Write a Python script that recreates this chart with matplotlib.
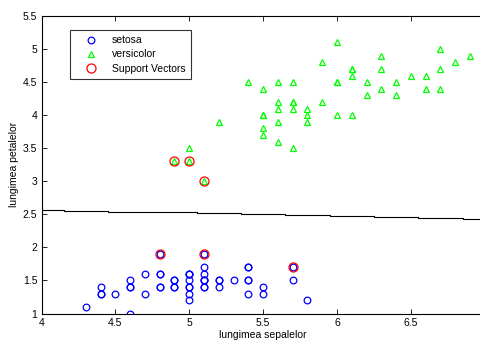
import matplotlib
matplotlib.use("Agg")
import matplotlib.pyplot as plt

setosa_x = [5.1,4.9,4.7,4.6,5.0,5.4,4.6,5.0,4.4,4.9,5.4,4.8,4.8,4.3,5.8,5.7,5.4,5.1,5.7,5.1,
            5.4,5.1,4.6,5.1,4.8,5.0,5.0,5.2,5.2,4.7,4.8,5.4,5.2,5.5,4.9,5.0,5.5,4.9,4.4,5.1,
            5.0,4.5,4.4,5.0,5.1,4.8,5.1,4.6,5.3,5.0]
setosa_y = [1.4,1.4,1.3,1.5,1.4,1.7,1.4,1.5,1.4,1.5,1.5,1.6,1.4,1.1,1.2,1.5,1.3,1.4,1.7,1.5,
            1.7,1.5,1.0,1.7,1.9,1.6,1.6,1.5,1.4,1.6,1.6,1.5,1.5,1.4,1.5,1.2,1.3,1.4,1.3,1.5,
            1.3,1.3,1.3,1.6,1.9,1.4,1.6,1.4,1.5,1.4]
versi_x = [7.0,6.4,6.9,5.5,6.5,5.7,6.3,4.9,6.6,5.2,5.0,5.9,6.0,6.1,5.6,6.7,5.6,5.8,6.2,5.6,
           5.9,6.1,6.3,6.1,6.4,6.6,6.8,6.7,6.0,5.7,5.5,5.5,5.8,6.0,5.4,6.0,6.7,6.3,5.6,5.5,
           5.5,6.1,5.8,5.0,5.6,5.7,5.7,6.2,5.1,5.7]
versi_y = [4.7,4.5,4.9,4.0,4.6,4.5,4.7,3.3,4.6,3.9,3.5,4.2,4.0,4.7,3.6,4.4,4.5,4.1,4.5,3.9,
           4.8,4.0,4.9,4.7,4.3,4.4,4.8,5.0,4.5,3.5,3.8,3.7,3.9,5.1,4.5,4.5,4.7,4.4,4.1,4.0,
           4.4,4.6,4.0,3.3,4.2,4.2,4.2,4.3,3.0,4.1]
sv_x = [4.8,5.1,5.7,4.9,5.0,5.1]
sv_y = [1.9,1.9,1.7,3.3,3.3,3.0]
bound_x = [4.0,4.3,4.6,4.9,5.2,5.5,5.8,6.1,6.4,6.7,7.0]
bound_y = [2.56,2.555,2.54,2.53,2.52,2.51,2.49,2.48,2.46,2.445,2.43]

plt.rcParams['font.family'] = ['Liberation Sans', 'DejaVu Sans']
plt.rcParams['font.size'] = 7.5

fig = plt.figure(figsize=(4.8, 3.43), dpi=100)
ax = fig.add_axes([41.5/480, 29.5/343, (484.7-41.5)/480, (327-29.5)/343])

ax.plot(setosa_x, setosa_y, 'o', mfc='none', mec='#0000ff', ms=4.8, mew=0.9, label='setosa')
ax.plot(versi_x, versi_y, '^', mfc='none', mec='#00ff00', ms=5.0, mew=0.9, label='versicolor')
ax.plot(sv_x, sv_y, 'o', mfc='none', mec='#ff0000', ms=6.5, mew=0.9, label='Support Vectors')
ax.plot(bound_x, bound_y, '-', color='black', lw=0.8, drawstyle='steps-mid')

ax.set_xlim(4, 7)
ax.set_ylim(1, 5.5)
ax.set_xticks([4, 4.5, 5, 5.5, 6, 6.5])
ax.set_xticklabels(['4', '4.5', '5', '5.5', '6', '6.5'])
ax.set_yticks([1, 1.5, 2, 2.5, 3, 3.5, 4, 4.5, 5, 5.5])
ax.set_yticklabels(['1', '1.5', '2', '2.5', '3', '3.5', '4', '4.5', '5', '5.5'])
ax.tick_params(direction='in', top=True, right=True, length=3.5, width=0.6, pad=3)
for s in ax.spines.values():
    s.set_linewidth(0.8)
ax.set_xlabel('lungimea sepalelor', labelpad=2)
ax.set_ylabel('lungimea petalelor', labelpad=3)

leg = ax.legend(loc='upper left', frameon=True, fancybox=False,
                edgecolor='black', borderpad=0.5, handlelength=3.0, handletextpad=0.5,
                labelspacing=0.4, borderaxespad=0)
leg.get_frame().set_linewidth(0.8)
leg.set_bbox_to_anchor((70/480, 1 - 30/343), transform=fig.transFigure)

fig.savefig('out.png', dpi=100)
